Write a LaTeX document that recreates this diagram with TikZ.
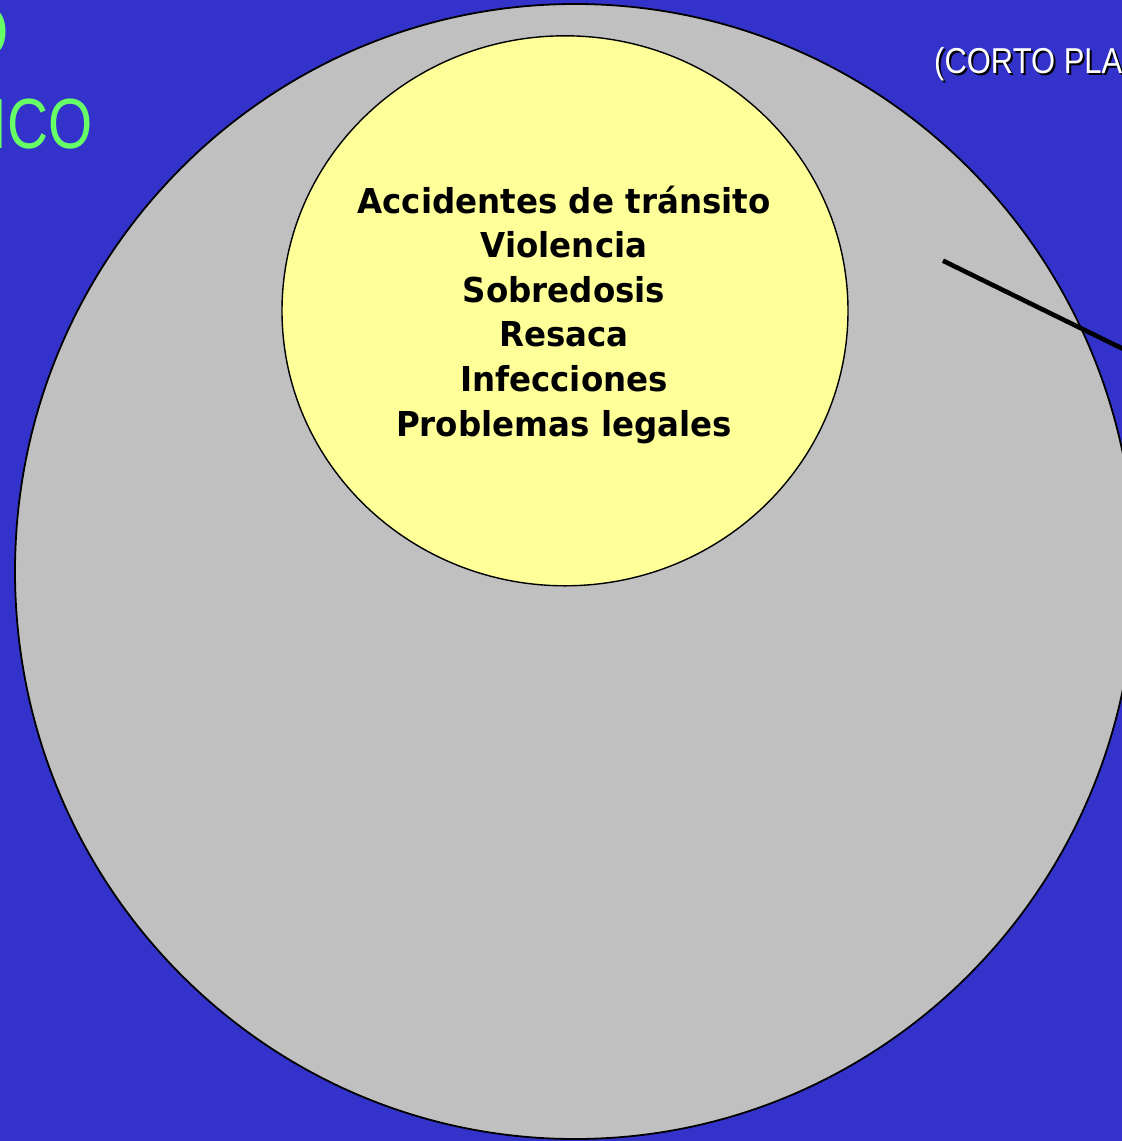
\documentclass[tikz,border=0pt]{standalone}
\usepackage{fontspec}
\newfontface\listfont{DejaVu Sans Bold}[FakeStretch=0.947]
\newfontfamily\greenfont{Liberation Sans}[FakeStretch=0.8]
\newfontfamily\titlefont{Liberation Sans}[FakeStretch=0.86]
\definecolor{bgblue}{RGB}{51,51,204}
\definecolor{diskgray}{RGB}{192,192,192}
\definecolor{inneryellow}{RGB}{255,255,153}
\definecolor{limegreen}{RGB}{102,255,102}
\tikzset{
  item/.style={inner sep=0pt, anchor=base, text=black, font=\listfont\fontsize{34.3}{44.6}\selectfont},
  greentext/.style={inner sep=0pt, anchor=base east, text=limegreen, font=\greenfont\fontsize{71}{80}\selectfont},
  titletext/.style={inner sep=0pt, anchor=base west, font=\titlefont\fontsize{36}{40}\selectfont},
}
\begin{document}
\begin{tikzpicture}[x=1pt,y=-1pt]
\useasboundingbox (0,0) rectangle (1122,1141);
\fill[bgblue] (0,0) rectangle (1122,1141);
% large grey disk
\filldraw[fill=diskgray, draw=black, line width=1.8pt] (575,571.5) ellipse [x radius=560pt, y radius=567.5pt];
% yellow disk
\filldraw[fill=inneryellow, draw=black, line width=1.4pt] (565,310.8) ellipse [x radius=283pt, y radius=275pt];
% list
\node[item] (l1) at (564,213) {Accidentes de tránsito};
\node[item] (l2) at (564,257.6) {Violencia};
\node[item] (l3) at (564,302.2) {Sobredosis};
\node[item] (l4) at (564,346.8) {Resaca};
\node[item] (l5) at (564,391.4) {Infecciones};
\node[item] (l6) at (564,436) {Problemas legales};
% pointer line
\coordinate (ls) at (943,260.7);
\coordinate (le) at (1140,357.2);
\draw[line width=4.6pt] (ls) -- (le);
% green title fragments
\node[greentext] (g1) at (9,56) {O};
\node[greentext] (g2) at (93,148) {ICO};
% white title with shadow
\node[titletext, text=black] (tshadow) at (936,75.3) {(CORTO PLA};
\node[titletext, text=white] (title) at (934,73.3) {(CORTO PLA};
\end{tikzpicture}
\end{document}
